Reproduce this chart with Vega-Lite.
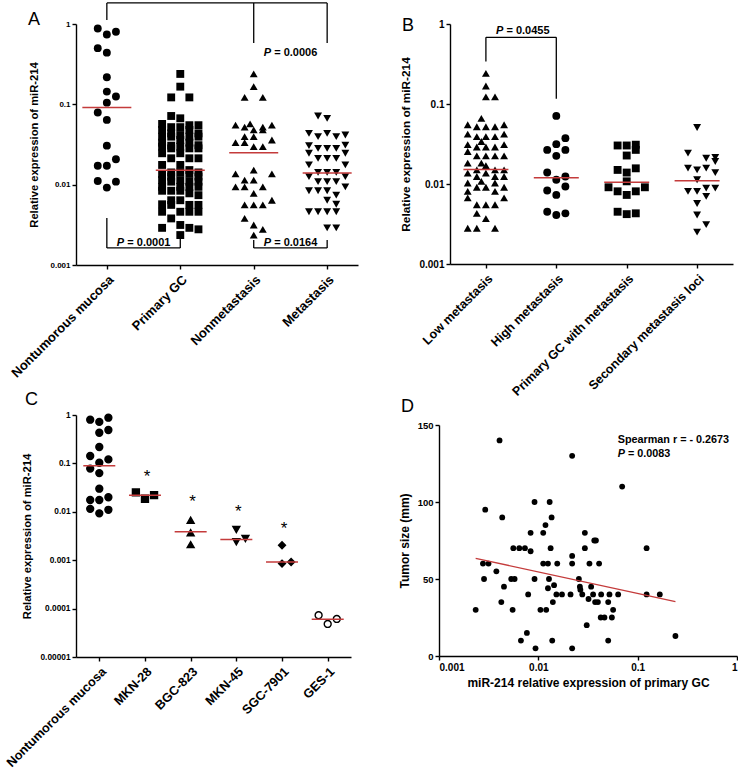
{
"$schema": "https://vega.github.io/schema/vega-lite/v6.json",
"background": "white",
"padding": {"left": 4, "top": 2, "right": 0, "bottom": 0},
"config": {
  "view": {"stroke": null},
  "font": "Liberation Sans",
  "axis": {"domainColor": "black", "domainWidth": 1.4, "tickColor": "black", "tickWidth": 1.4, "tickSize": 4, "labelColor": "black", "labelFont": "Liberation Sans", "labelFontWeight": "bold", "labelPadding": 2, "titleColor": "black", "titleFont": "Liberation Sans", "titleFontWeight": "bold", "grid": false, "labelOverlap": false},
  "title": {"font": "Liberation Sans", "fontSize": 18, "fontWeight": "normal", "anchor": "start", "frame": "group", "color": "black"}
},
"datasets": {
  "a_pts": [
    {"g":"Nontumorous mucosa","v":0.88,"c":-1},{"g":"Nontumorous mucosa","v":0.74,"c":0},{"g":"Nontumorous mucosa","v":0.80,"c":1},{"g":"Nontumorous mucosa","v":0.50,"c":-1},{"g":"Nontumorous mucosa","v":0.44,"c":0},{"g":"Nontumorous mucosa","v":0.217,"c":0},{"g":"Nontumorous mucosa","v":0.144,"c":0},{"g":"Nontumorous mucosa","v":0.125,"c":1},{"g":"Nontumorous mucosa","v":0.105,"c":0},{"g":"Nontumorous mucosa","v":0.079,"c":-1},{"g":"Nontumorous mucosa","v":0.064,"c":0},{"g":"Nontumorous mucosa","v":0.0306,"c":0},{"g":"Nontumorous mucosa","v":0.0172,"c":-1},{"g":"Nontumorous mucosa","v":0.0172,"c":0},{"g":"Nontumorous mucosa","v":0.0207,"c":1},{"g":"Nontumorous mucosa","v":0.0111,"c":-1},{"g":"Nontumorous mucosa","v":0.0109,"c":1},{"g":"Nontumorous mucosa","v":0.0092,"c":0},
    {"g":"Primary GC","v":0.239,"c":0},{"g":"Primary GC","v":0.166,"c":0},{"g":"Primary GC","v":0.122,"c":-1},{"g":"Primary GC","v":0.122,"c":1},{"g":"Primary GC","v":0.0716,"c":-1},{"g":"Primary GC","v":0.067,"c":0},{"g":"Primary GC","v":0.057,"c":-2},{"g":"Primary GC","v":0.055,"c":1},{"g":"Primary GC","v":0.055,"c":2},{"g":"Primary GC","v":0.052,"c":-1},{"g":"Primary GC","v":0.052,"c":0},{"g":"Primary GC","v":0.048,"c":-2},{"g":"Primary GC","v":0.048,"c":1},{"g":"Primary GC","v":0.0435,"c":2},{"g":"Primary GC","v":0.0435,"c":-1},{"g":"Primary GC","v":0.0415,"c":0},{"g":"Primary GC","v":0.0396,"c":-2},{"g":"Primary GC","v":0.0396,"c":1},{"g":"Primary GC","v":0.0396,"c":2},{"g":"Primary GC","v":0.0396,"c":-1},{"g":"Primary GC","v":0.036,"c":0},{"g":"Primary GC","v":0.0333,"c":-2},{"g":"Primary GC","v":0.0333,"c":1},{"g":"Primary GC","v":0.031,"c":2},{"g":"Primary GC","v":0.0306,"c":-1},{"g":"Primary GC","v":0.0297,"c":0},{"g":"Primary GC","v":0.0297,"c":-2},{"g":"Primary GC","v":0.0283,"c":1},{"g":"Primary GC","v":0.0283,"c":2},{"g":"Primary GC","v":0.0283,"c":-1},{"g":"Primary GC","v":0.0246,"c":0},{"g":"Primary GC","v":0.0246,"c":-2},{"g":"Primary GC","v":0.0213,"c":1},{"g":"Primary GC","v":0.0213,"c":2},{"g":"Primary GC","v":0.0213,"c":-1},{"g":"Primary GC","v":0.0176,"c":0},{"g":"Primary GC","v":0.0176,"c":-2},{"g":"Primary GC","v":0.0152,"c":1},{"g":"Primary GC","v":0.0142,"c":2},{"g":"Primary GC","v":0.0142,"c":-1},{"g":"Primary GC","v":0.0142,"c":0},{"g":"Primary GC","v":0.0136,"c":-2},{"g":"Primary GC","v":0.0136,"c":1},{"g":"Primary GC","v":0.0126,"c":2},{"g":"Primary GC","v":0.0126,"c":-1},{"g":"Primary GC","v":0.0114,"c":0},{"g":"Primary GC","v":0.0114,"c":-2},{"g":"Primary GC","v":0.0109,"c":1},{"g":"Primary GC","v":0.0109,"c":2},{"g":"Primary GC","v":0.0109,"c":-1},{"g":"Primary GC","v":0.0094,"c":0},{"g":"Primary GC","v":0.0094,"c":-2},{"g":"Primary GC","v":0.0094,"c":1},{"g":"Primary GC","v":0.0094,"c":2},{"g":"Primary GC","v":0.0084,"c":-1},{"g":"Primary GC","v":0.0084,"c":0},{"g":"Primary GC","v":0.0084,"c":-2},{"g":"Primary GC","v":0.0078,"c":1},{"g":"Primary GC","v":0.0074,"c":2},{"g":"Primary GC","v":0.0064,"c":-1},{"g":"Primary GC","v":0.0064,"c":0},{"g":"Primary GC","v":0.0057,"c":-2},{"g":"Primary GC","v":0.0056,"c":1},{"g":"Primary GC","v":0.0056,"c":2},{"g":"Primary GC","v":0.0056,"c":-1},{"g":"Primary GC","v":0.0046,"c":0},{"g":"Primary GC","v":0.0046,"c":-2},{"g":"Primary GC","v":0.0046,"c":1},{"g":"Primary GC","v":0.0046,"c":2},{"g":"Primary GC","v":0.0038,"c":-1},{"g":"Primary GC","v":0.00315,"c":0},{"g":"Primary GC","v":0.0029,"c":-2},{"g":"Primary GC","v":0.0029,"c":1},{"g":"Primary GC","v":0.00278,"c":2},{"g":"Primary GC","v":0.00236,"c":0},
    {"g":"Nonmetastasis","v":0.239,"c":0},{"g":"Nonmetastasis","v":0.166,"c":0},{"g":"Nonmetastasis","v":0.122,"c":-1},{"g":"Nonmetastasis","v":0.122,"c":1},{"g":"Nonmetastasis","v":0.055,"c":-2},{"g":"Nonmetastasis","v":0.052,"c":-1},{"g":"Nonmetastasis","v":0.057,"c":-0.4},{"g":"Nonmetastasis","v":0.052,"c":1},{"g":"Nonmetastasis","v":0.055,"c":2},{"g":"Nonmetastasis","v":0.048,"c":0},{"g":"Nonmetastasis","v":0.048,"c":1},{"g":"Nonmetastasis","v":0.0396,"c":-1},{"g":"Nonmetastasis","v":0.0396,"c":0},{"g":"Nonmetastasis","v":0.036,"c":2},{"g":"Nonmetastasis","v":0.0333,"c":-2},{"g":"Nonmetastasis","v":0.0333,"c":-1},{"g":"Nonmetastasis","v":0.0297,"c":0},{"g":"Nonmetastasis","v":0.0297,"c":1},{"g":"Nonmetastasis","v":0.0152,"c":0},{"g":"Nonmetastasis","v":0.0136,"c":-2},{"g":"Nonmetastasis","v":0.0136,"c":2},{"g":"Nonmetastasis","v":0.0114,"c":-1},{"g":"Nonmetastasis","v":0.0114,"c":0},{"g":"Nonmetastasis","v":0.0094,"c":-2},{"g":"Nonmetastasis","v":0.0094,"c":-1},{"g":"Nonmetastasis","v":0.0094,"c":1},{"g":"Nonmetastasis","v":0.0078,"c":0},{"g":"Nonmetastasis","v":0.0064,"c":2},{"g":"Nonmetastasis","v":0.0056,"c":-1},{"g":"Nonmetastasis","v":0.0056,"c":0},{"g":"Nonmetastasis","v":0.0056,"c":1},{"g":"Nonmetastasis","v":0.0038,"c":-1},{"g":"Nonmetastasis","v":0.00315,"c":0},{"g":"Nonmetastasis","v":0.00278,"c":1},{"g":"Nonmetastasis","v":0.00236,"c":0},
    {"g":"Metastasis","v":0.0716,"c":-1},{"g":"Metastasis","v":0.067,"c":0},{"g":"Metastasis","v":0.0435,"c":-2},{"g":"Metastasis","v":0.0396,"c":-1},{"g":"Metastasis","v":0.0435,"c":0},{"g":"Metastasis","v":0.0396,"c":1},{"g":"Metastasis","v":0.0415,"c":2},{"g":"Metastasis","v":0.0306,"c":-2},{"g":"Metastasis","v":0.031,"c":2},{"g":"Metastasis","v":0.0283,"c":-1},{"g":"Metastasis","v":0.0283,"c":0},{"g":"Metastasis","v":0.0283,"c":1},{"g":"Metastasis","v":0.0246,"c":-2},{"g":"Metastasis","v":0.0246,"c":2},{"g":"Metastasis","v":0.0213,"c":-1},{"g":"Metastasis","v":0.0213,"c":0},{"g":"Metastasis","v":0.0213,"c":1},{"g":"Metastasis","v":0.0176,"c":-2},{"g":"Metastasis","v":0.0176,"c":2},{"g":"Metastasis","v":0.0142,"c":-1},{"g":"Metastasis","v":0.0142,"c":0},{"g":"Metastasis","v":0.0142,"c":1},{"g":"Metastasis","v":0.0126,"c":-2},{"g":"Metastasis","v":0.0126,"c":2},{"g":"Metastasis","v":0.0109,"c":-1},{"g":"Metastasis","v":0.0109,"c":0},{"g":"Metastasis","v":0.0109,"c":1},{"g":"Metastasis","v":0.0094,"c":2},{"g":"Metastasis","v":0.0084,"c":-2},{"g":"Metastasis","v":0.0084,"c":-1},{"g":"Metastasis","v":0.0084,"c":0},{"g":"Metastasis","v":0.0074,"c":1},{"g":"Metastasis","v":0.0064,"c":0},{"g":"Metastasis","v":0.0057,"c":1},{"g":"Metastasis","v":0.0046,"c":-2},{"g":"Metastasis","v":0.0046,"c":-1},{"g":"Metastasis","v":0.0046,"c":0},{"g":"Metastasis","v":0.0046,"c":1},{"g":"Metastasis","v":0.0029,"c":0},{"g":"Metastasis","v":0.0029,"c":1}
  ],
  "a_med": [{"g":"Nontumorous mucosa","v":0.091},{"g":"Primary GC","v":0.0151},{"g":"Nonmetastasis","v":0.025},{"g":"Metastasis","v":0.014}],
  "a_seg": [
    {"xa":"Nontumorous mucosa","xb":"Metastasis","ya":1.83,"yb":1.83},
    {"xa":"Nontumorous mucosa","xb":"Nontumorous mucosa","ya":1.83,"yb":1.12},
    {"xa":"Nonmetastasis","xb":"Nonmetastasis","ya":1.83,"yb":0.58},
    {"xa":"Metastasis","xb":"Metastasis","ya":1.83,"yb":0.58},
    {"xa":"Nontumorous mucosa","xb":"Nontumorous mucosa","ya":0.00385,"yb":0.00163},
    {"xa":"Nontumorous mucosa","xb":"Primary GC","ya":0.00163,"yb":0.00163},
    {"xa":"Primary GC","xb":"Primary GC","ya":0.00163,"yb":0.0025},
    {"xa":"Nonmetastasis","xb":"Nonmetastasis","ya":0.00205,"yb":0.00163},
    {"xa":"Nonmetastasis","xb":"Metastasis","ya":0.00163,"yb":0.00163},
    {"xa":"Metastasis","xb":"Metastasis","ya":0.00163,"yb":0.00205}
  ],
  "a_p": [{"g":"Nonmetastasis","v":0.435,"t":"= 0.0006"},{"g":"Nontumorous mucosa","v":0.00188,"t":"= 0.0001"},{"g":"Nonmetastasis","v":0.00188,"t":"= 0.0164"}],
  "b_pts": [
    {"g":"Low metastasis","v":0.242,"c":0},{"g":"Low metastasis","v":0.168,"c":0},{"g":"Low metastasis","v":0.123,"c":0},{"g":"Low metastasis","v":0.123,"c":1},{"g":"Low metastasis","v":0.066,"c":-0.5},{"g":"Low metastasis","v":0.055,"c":-2},{"g":"Low metastasis","v":0.055,"c":2},{"g":"Low metastasis","v":0.052,"c":-1},{"g":"Low metastasis","v":0.052,"c":0},{"g":"Low metastasis","v":0.052,"c":1},{"g":"Low metastasis","v":0.042,"c":-2},{"g":"Low metastasis","v":0.042,"c":2},{"g":"Low metastasis","v":0.039,"c":-1},{"g":"Low metastasis","v":0.039,"c":0},{"g":"Low metastasis","v":0.039,"c":1},{"g":"Low metastasis","v":0.034,"c":-0.5},{"g":"Low metastasis","v":0.031,"c":-2},{"g":"Low metastasis","v":0.031,"c":2},{"g":"Low metastasis","v":0.029,"c":-1},{"g":"Low metastasis","v":0.029,"c":0},{"g":"Low metastasis","v":0.029,"c":1},{"g":"Low metastasis","v":0.0255,"c":-2},{"g":"Low metastasis","v":0.0225,"c":-1},{"g":"Low metastasis","v":0.0225,"c":0},{"g":"Low metastasis","v":0.0225,"c":1},{"g":"Low metastasis","v":0.0225,"c":2},{"g":"Low metastasis","v":0.0182,"c":-2},{"g":"Low metastasis","v":0.0182,"c":-0.5},{"g":"Low metastasis","v":0.017,"c":0},{"g":"Low metastasis","v":0.015,"c":-1},{"g":"Low metastasis","v":0.015,"c":1},{"g":"Low metastasis","v":0.015,"c":2},{"g":"Low metastasis","v":0.0137,"c":-2},{"g":"Low metastasis","v":0.0137,"c":0},{"g":"Low metastasis","v":0.0124,"c":-1},{"g":"Low metastasis","v":0.0124,"c":1},{"g":"Low metastasis","v":0.0124,"c":2},{"g":"Low metastasis","v":0.0108,"c":-0.5},{"g":"Low metastasis","v":0.0103,"c":-2},{"g":"Low metastasis","v":0.0103,"c":1},{"g":"Low metastasis","v":0.0091,"c":-1},{"g":"Low metastasis","v":0.0091,"c":0},{"g":"Low metastasis","v":0.0091,"c":2},{"g":"Low metastasis","v":0.0081,"c":-2},{"g":"Low metastasis","v":0.0081,"c":1},{"g":"Low metastasis","v":0.0067,"c":-2},{"g":"Low metastasis","v":0.0067,"c":2},{"g":"Low metastasis","v":0.0055,"c":-1},{"g":"Low metastasis","v":0.0055,"c":0},{"g":"Low metastasis","v":0.0055,"c":1},{"g":"Low metastasis","v":0.0043,"c":-1},{"g":"Low metastasis","v":0.0037,"c":0},{"g":"Low metastasis","v":0.0028,"c":-2},{"g":"Low metastasis","v":0.0028,"c":-1},{"g":"Low metastasis","v":0.0028,"c":1},
    {"g":"High metastasis","v":0.071,"c":0},{"g":"High metastasis","v":0.0374,"c":1},{"g":"High metastasis","v":0.0315,"c":0},{"g":"High metastasis","v":0.0267,"c":-1},{"g":"High metastasis","v":0.0267,"c":1},{"g":"High metastasis","v":0.0225,"c":0},{"g":"High metastasis","v":0.0139,"c":-1},{"g":"High metastasis","v":0.0124,"c":1},{"g":"High metastasis","v":0.0113,"c":0},{"g":"High metastasis","v":0.0093,"c":1},{"g":"High metastasis","v":0.0083,"c":-1},{"g":"High metastasis","v":0.0073,"c":0},{"g":"High metastasis","v":0.0045,"c":-1},{"g":"High metastasis","v":0.0043,"c":1},{"g":"High metastasis","v":0.0041,"c":0},
    {"g":"Primary GC with metastasis","v":0.0303,"c":-1},{"g":"Primary GC with metastasis","v":0.0303,"c":0},{"g":"Primary GC with metastasis","v":0.031,"c":1},{"g":"Primary GC with metastasis","v":0.0267,"c":1},{"g":"Primary GC with metastasis","v":0.0227,"c":0},{"g":"Primary GC with metastasis","v":0.015,"c":-1},{"g":"Primary GC with metastasis","v":0.0157,"c":1},{"g":"Primary GC with metastasis","v":0.0139,"c":0},{"g":"Primary GC with metastasis","v":0.0108,"c":0},{"g":"Primary GC with metastasis","v":0.0091,"c":-2},{"g":"Primary GC with metastasis","v":0.0091,"c":2},{"g":"Primary GC with metastasis","v":0.0081,"c":-1},{"g":"Primary GC with metastasis","v":0.0081,"c":1},{"g":"Primary GC with metastasis","v":0.0073,"c":0},{"g":"Primary GC with metastasis","v":0.0045,"c":-1},{"g":"Primary GC with metastasis","v":0.0042,"c":0},{"g":"Primary GC with metastasis","v":0.0043,"c":1},
    {"g":"Secondary metastasis loci","v":0.0508,"c":0},{"g":"Secondary metastasis loci","v":0.0243,"c":-1},{"g":"Secondary metastasis loci","v":0.021,"c":1},{"g":"Secondary metastasis loci","v":0.0215,"c":2},{"g":"Secondary metastasis loci","v":0.0191,"c":2},{"g":"Secondary metastasis loci","v":0.0158,"c":-1},{"g":"Secondary metastasis loci","v":0.0158,"c":1},{"g":"Secondary metastasis loci","v":0.015,"c":0},{"g":"Secondary metastasis loci","v":0.0139,"c":2},{"g":"Secondary metastasis loci","v":0.0113,"c":0},{"g":"Secondary metastasis loci","v":0.0089,"c":1},{"g":"Secondary metastasis loci","v":0.0089,"c":2},{"g":"Secondary metastasis loci","v":0.0081,"c":-1},{"g":"Secondary metastasis loci","v":0.0081,"c":0},{"g":"Secondary metastasis loci","v":0.007,"c":1},{"g":"Secondary metastasis loci","v":0.0057,"c":0},{"g":"Secondary metastasis loci","v":0.0041,"c":0},{"g":"Secondary metastasis loci","v":0.0031,"c":1},{"g":"Secondary metastasis loci","v":0.0025,"c":0}
  ],
  "b_med": [{"g":"Low metastasis","v":0.0152},{"g":"High metastasis","v":0.012},{"g":"Primary GC with metastasis","v":0.0105},{"g":"Secondary metastasis loci","v":0.011}],
  "b_seg": [
    {"xa":"Low metastasis","xb":"Low metastasis","ya":0.339,"yb":0.682},
    {"xa":"Low metastasis","xb":"High metastasis","ya":0.682,"yb":0.682},
    {"xa":"High metastasis","xb":"High metastasis","ya":0.682,"yb":0.116}
  ],
  "b_p": [{"g":"Low metastasis","v":0.818,"t":"= 0.0455"}],
  "c_pts": [
    {"g":"Nontumorous mucosa","v":0.88,"c":1},{"g":"Nontumorous mucosa","v":0.80,"c":-1},{"g":"Nontumorous mucosa","v":0.72,"c":0},{"g":"Nontumorous mucosa","v":0.49,"c":1},{"g":"Nontumorous mucosa","v":0.43,"c":0},{"g":"Nontumorous mucosa","v":0.218,"c":0},{"g":"Nontumorous mucosa","v":0.142,"c":-1},{"g":"Nontumorous mucosa","v":0.121,"c":1},{"g":"Nontumorous mucosa","v":0.103,"c":0},{"g":"Nontumorous mucosa","v":0.078,"c":-1},{"g":"Nontumorous mucosa","v":0.063,"c":0},{"g":"Nontumorous mucosa","v":0.030,"c":0},{"g":"Nontumorous mucosa","v":0.0175,"c":-1},{"g":"Nontumorous mucosa","v":0.0175,"c":0},{"g":"Nontumorous mucosa","v":0.020,"c":1},{"g":"Nontumorous mucosa","v":0.0115,"c":-1},{"g":"Nontumorous mucosa","v":0.011,"c":1},{"g":"Nontumorous mucosa","v":0.0093,"c":0},
    {"g":"MKN-28","v":0.0251,"c":-1},{"g":"MKN-28","v":0.0186,"c":0},{"g":"MKN-28","v":0.0221,"c":1},
    {"g":"BGC-823","v":0.0067,"c":0},{"g":"BGC-823","v":0.0037,"c":0},{"g":"BGC-823","v":0.0021,"c":0},
    {"g":"MKN-45","v":0.0043,"c":0},{"g":"MKN-45","v":0.0024,"c":0},{"g":"MKN-45","v":0.0028,"c":1},
    {"g":"SGC-7901","v":0.00204,"c":0},{"g":"SGC-7901","v":0.00085,"c":0},{"g":"SGC-7901","v":0.00092,"c":1},
    {"g":"GES-1","v":0.0000728,"c":-1},{"g":"GES-1","v":0.0000482,"c":0},{"g":"GES-1","v":0.0000611,"c":1}
  ],
  "c_med": [{"g":"Nontumorous mucosa","v":0.0895},{"g":"MKN-28","v":0.0221},{"g":"BGC-823","v":0.00386},{"g":"MKN-45","v":0.00268},{"g":"SGC-7901","v":0.00092},{"g":"GES-1","v":0.00006}],
  "c_star": [{"g":"MKN-28","v":0.064},{"g":"BGC-823","v":0.0195},{"g":"MKN-45","v":0.0121},{"g":"SGC-7901","v":0.0055}],
  "d_pts": [
    {"x":0.00407,"y":140},{"x":0.0219,"y":130},{"x":0.0698,"y":110},{"x":0.00292,"y":95},{"x":0.00916,"y":100},{"x":0.0130,"y":100},{"x":0.00433,"y":90},{"x":0.0136,"y":90},{"x":0.0118,"y":85},{"x":0.00836,"y":80},{"x":0.0112,"y":80},{"x":0.0294,"y":80},{"x":0.0366,"y":75},{"x":0.0380,"y":75},{"x":0.0056,"y":70},{"x":0.00643,"y":70},{"x":0.00733,"y":70},{"x":0.0133,"y":70},{"x":0.0294,"y":70},{"x":0.123,"y":70},{"x":0.00836,"y":68},{"x":0.0219,"y":65},{"x":0.00277,"y":60},{"x":0.00315,"y":60},{"x":0.0112,"y":60},{"x":0.0125,"y":60},{"x":0.0155,"y":60},{"x":0.0219,"y":60},{"x":0.0327,"y":60},{"x":0.0409,"y":60},{"x":0.00378,"y":55},{"x":0.00284,"y":50},{"x":0.00533,"y":50},{"x":0.00577,"y":50},{"x":0.00916,"y":50},{"x":0.0128,"y":50},{"x":0.0256,"y":50},{"x":0.00451,"y":45},{"x":0.0144,"y":46},{"x":0.0262,"y":45},{"x":0.034,"y":45},{"x":0.0125,"y":44},{"x":0.0265,"y":43},{"x":0.0079,"y":40},{"x":0.0152,"y":40},{"x":0.0173,"y":40},{"x":0.0211,"y":40},{"x":0.0277,"y":40},{"x":0.0356,"y":40},{"x":0.0429,"y":40},{"x":0.052,"y":40},{"x":0.0636,"y":40},{"x":0.123,"y":40},{"x":0.167,"y":40},{"x":0.00424,"y":35},{"x":0.0140,"y":35},{"x":0.032,"y":37},{"x":0.0373,"y":35},{"x":0.0398,"y":35},{"x":0.0505,"y":35},{"x":0.00234,"y":30},{"x":0.00551,"y":30},{"x":0.0105,"y":30},{"x":0.012,"y":30},{"x":0.0566,"y":30},{"x":0.0425,"y":25},{"x":0.0463,"y":25},{"x":0.055,"y":25},{"x":0.0307,"y":20},{"x":0.00767,"y":15},{"x":0.00668,"y":10},{"x":0.0138,"y":10},{"x":0.0505,"y":10},{"x":0.24,"y":13},{"x":0.00937,"y":5},{"x":0.0219,"y":5}
  ],
  "d_fit": [{"x1":0.00234,"y1":63.4,"x2":0.24,"y2":35.3}],
  "d_txt": [{"x":0.063,"y":140,"t":"Spearman r = - 0.2673"}],
  "d_p": [{"x":0.063,"y":131.4,"t":"= 0.0083"}]
},
"resolve": {"scale": {"shape": "independent", "fill": "independent", "xOffset": "independent"}},
"spacing": -7,
"vconcat": [
 {
  "bounds": "flush",
  "spacing": 92,
  "resolve": {"scale": {"shape": "independent", "fill": "independent", "xOffset": "independent"}},
  "hconcat": [
   {
    "width": 282, "height": 241,
    "title": {"text": "A", "dx": -48, "offset": -27},
    "layer": [
     {"data": {"name": "a_pts"}, "mark": {"type": "point", "filled": true, "size": 62, "opacity": 1},
      "encoding": {
       "x": {"field": "g", "type": "nominal", "title": null, "scale": {"type": "point", "domain": ["Nontumorous mucosa","Primary GC","Nonmetastasis","Metastasis"], "padding": 0.42}, "axis": {"labelAngle": -45, "labelFontSize": 13, "labelPadding": 4}},
       "xOffset": {"field": "c", "type": "quantitative", "scale": {"domain": [-3.3, 3.3], "range": [-30, 30]}},
       "y": {"field": "v", "type": "quantitative", "title": "Relative expression of miR-214", "scale": {"type": "log", "domain": [0.001, 1], "nice": false}, "axis": {"values": [0.001, 0.01, 0.1, 1], "format": "~f", "labelFontSize": 8, "titleFontSize": 11.2, "titlePadding": 10}},
       "shape": {"field": "g", "type": "nominal", "scale": {"domain": ["Nontumorous mucosa","Primary GC","Nonmetastasis","Metastasis"], "range": ["circle","square","triangle-up","triangle-down"]}, "legend": null},
       "color": {"value": "black"}
      }},
     {"data": {"name": "a_med"}, "mark": {"type": "tick", "color": "#c43b3b", "thickness": 1.5, "size": 49, "opacity": 1},
      "encoding": {
       "x": {"field": "g", "type": "nominal", "title": null, "scale": {"type": "point", "domain": ["Nontumorous mucosa","Primary GC","Nonmetastasis","Metastasis"], "padding": 0.42}},
       "y": {"field": "v", "type": "quantitative", "title": "Relative expression of miR-214", "scale": {"type": "log", "domain": [0.001, 1], "nice": false}}
      }},
     {"data": {"name": "a_seg"}, "mark": {"type": "rule", "color": "black", "strokeWidth": 1.3},
      "encoding": {
       "x": {"field": "xa", "type": "nominal", "title": null, "scale": {"type": "point", "domain": ["Nontumorous mucosa","Primary GC","Nonmetastasis","Metastasis"], "padding": 0.42}},
       "x2": {"field": "xb"},
       "y": {"field": "ya", "type": "quantitative", "title": "Relative expression of miR-214", "scale": {"type": "log", "domain": [0.001, 1], "nice": false}},
       "y2": {"field": "yb"}
      }},
     {"data": {"name": "a_p"}, "mark": {"type": "text", "text": "P", "font": "Liberation Sans", "fontStyle": "italic", "fontWeight": "bold", "fontSize": 11, "align": "left", "baseline": "middle", "dx": 10, "color": "black"},
      "encoding": {
       "x": {"field": "g", "type": "nominal", "title": null, "scale": {"type": "point", "domain": ["Nontumorous mucosa","Primary GC","Nonmetastasis","Metastasis"], "padding": 0.42}},
       "y": {"field": "v", "type": "quantitative", "title": "Relative expression of miR-214", "scale": {"type": "log", "domain": [0.001, 1], "nice": false}}
      }},
     {"data": {"name": "a_p"}, "mark": {"type": "text", "font": "Liberation Sans", "fontWeight": "bold", "fontSize": 11, "align": "left", "baseline": "middle", "dx": 20.5, "color": "black"},
      "encoding": {
       "x": {"field": "g", "type": "nominal", "title": null, "scale": {"type": "point", "domain": ["Nontumorous mucosa","Primary GC","Nonmetastasis","Metastasis"], "padding": 0.42}},
       "y": {"field": "v", "type": "quantitative", "title": "Relative expression of miR-214", "scale": {"type": "log", "domain": [0.001, 1], "nice": false}},
       "text": {"field": "t"}
      }}
    ]
   },
   {
    "width": 283, "height": 240,
    "title": {"text": "B", "dx": -48, "offset": -16},
    "layer": [
     {"data": {"name": "b_pts"}, "mark": {"type": "point", "filled": true, "size": 62, "opacity": 1},
      "encoding": {
       "x": {"field": "g", "type": "nominal", "title": null, "scale": {"type": "point", "domain": ["Low metastasis","High metastasis","Primary GC with metastasis","Secondary metastasis loci"], "padding": 0.51}, "axis": {"labelAngle": -45, "labelFontSize": 12.5, "labelPadding": 4}},
       "xOffset": {"field": "c", "type": "quantitative", "scale": {"domain": [-3.3, 3.3], "range": [-30, 30]}},
       "y": {"field": "v", "type": "quantitative", "title": "Relative expression of miR-214", "scale": {"type": "log", "domain": [0.001, 1], "nice": false}, "axis": {"values": [0.001, 0.01, 0.1, 1], "format": "~f", "labelFontSize": 10, "titleFontSize": 11.8, "titlePadding": 7}},
       "shape": {"field": "g", "type": "nominal", "scale": {"domain": ["Low metastasis","High metastasis","Primary GC with metastasis","Secondary metastasis loci"], "range": ["triangle-up","circle","square","triangle-down"]}, "legend": null},
       "color": {"value": "black"}
      }},
     {"data": {"name": "b_med"}, "mark": {"type": "tick", "color": "#c43b3b", "thickness": 1.5, "size": 45, "opacity": 1},
      "encoding": {
       "x": {"field": "g", "type": "nominal", "title": null, "scale": {"type": "point", "domain": ["Low metastasis","High metastasis","Primary GC with metastasis","Secondary metastasis loci"], "padding": 0.51}},
       "y": {"field": "v", "type": "quantitative", "title": "Relative expression of miR-214", "scale": {"type": "log", "domain": [0.001, 1], "nice": false}}
      }},
     {"data": {"name": "b_seg"}, "mark": {"type": "rule", "color": "black", "strokeWidth": 1.3},
      "encoding": {
       "x": {"field": "xa", "type": "nominal", "title": null, "scale": {"type": "point", "domain": ["Low metastasis","High metastasis","Primary GC with metastasis","Secondary metastasis loci"], "padding": 0.51}},
       "x2": {"field": "xb"},
       "y": {"field": "ya", "type": "quantitative", "title": "Relative expression of miR-214", "scale": {"type": "log", "domain": [0.001, 1], "nice": false}},
       "y2": {"field": "yb"}
      }},
     {"data": {"name": "b_p"}, "mark": {"type": "text", "text": "P", "font": "Liberation Sans", "fontStyle": "italic", "fontWeight": "bold", "fontSize": 11, "align": "left", "baseline": "middle", "dx": 10, "color": "black"},
      "encoding": {
       "x": {"field": "g", "type": "nominal", "title": null, "scale": {"type": "point", "domain": ["Low metastasis","High metastasis","Primary GC with metastasis","Secondary metastasis loci"], "padding": 0.51}},
       "y": {"field": "v", "type": "quantitative", "title": "Relative expression of miR-214", "scale": {"type": "log", "domain": [0.001, 1], "nice": false}}
      }},
     {"data": {"name": "b_p"}, "mark": {"type": "text", "font": "Liberation Sans", "fontWeight": "bold", "fontSize": 11, "align": "left", "baseline": "middle", "dx": 20.5, "color": "black"},
      "encoding": {
       "x": {"field": "g", "type": "nominal", "title": null, "scale": {"type": "point", "domain": ["Low metastasis","High metastasis","Primary GC with metastasis","Secondary metastasis loci"], "padding": 0.51}},
       "y": {"field": "v", "type": "quantitative", "title": "Relative expression of miR-214", "scale": {"type": "log", "domain": [0.001, 1], "nice": false}},
       "text": {"field": "t"}
      }}
    ]
   }
  ]
 },
 {
  "bounds": "flush",
  "spacing": 88,
  "resolve": {"scale": {"shape": "independent", "fill": "independent", "xOffset": "independent"}},
  "hconcat": [
   {
    "width": 275, "height": 242,
    "title": {"text": "C", "dx": -51, "offset": 1},
    "layer": [
     {"data": {"name": "c_pts"}, "mark": {"type": "point", "filled": true, "size": 48, "opacity": 1, "stroke": "black", "strokeWidth": 1.4},
      "encoding": {
       "x": {"field": "g", "type": "nominal", "title": null, "scale": {"type": "point", "domain": ["Nontumorous mucosa","MKN-28","BGC-823","MKN-45","SGC-7901","GES-1"], "padding": 0.51}, "axis": {"labelAngle": -45, "labelFontSize": 12.7, "labelPadding": 4}},
       "xOffset": {"field": "c", "type": "quantitative", "scale": {"domain": [-3.3, 3.3], "range": [-30, 30]}},
       "y": {"field": "v", "type": "quantitative", "title": "Relative expression of miR-214", "scale": {"type": "log", "domain": [0.00001, 1], "nice": false}, "axis": {"values": [0.00001, 0.0001, 0.001, 0.01, 0.1, 1], "format": "~f", "labelFontSize": 8.3, "titleFontSize": 11.2, "titlePadding": 8}},
       "shape": {"field": "g", "type": "nominal", "scale": {"domain": ["Nontumorous mucosa","MKN-28","BGC-823","MKN-45","SGC-7901","GES-1"], "range": ["circle","square","triangle-up","triangle-down","diamond","circle"]}, "legend": null},
       "fill": {"field": "g", "type": "nominal", "scale": {"domain": ["Nontumorous mucosa","MKN-28","BGC-823","MKN-45","SGC-7901","GES-1"], "range": ["black","black","black","black","black","white"]}, "legend": null}
      }},
     {"data": {"name": "c_med"}, "mark": {"type": "tick", "color": "#c43b3b", "thickness": 1.5, "size": 32, "opacity": 1},
      "encoding": {
       "x": {"field": "g", "type": "nominal", "title": null, "scale": {"type": "point", "domain": ["Nontumorous mucosa","MKN-28","BGC-823","MKN-45","SGC-7901","GES-1"], "padding": 0.51}},
       "y": {"field": "v", "type": "quantitative", "title": "Relative expression of miR-214", "scale": {"type": "log", "domain": [0.00001, 1], "nice": false}}
      }},
     {"data": {"name": "c_star"}, "mark": {"type": "text", "text": "*", "font": "Liberation Sans", "fontSize": 17, "align": "center", "baseline": "middle", "dx": 2, "dy": 4.5, "color": "black"},
      "encoding": {
       "x": {"field": "g", "type": "nominal", "title": null, "scale": {"type": "point", "domain": ["Nontumorous mucosa","MKN-28","BGC-823","MKN-45","SGC-7901","GES-1"], "padding": 0.51}},
       "y": {"field": "v", "type": "quantitative", "title": "Relative expression of miR-214", "scale": {"type": "log", "domain": [0.00001, 1], "nice": false}}
      }}
    ]
   },
   {
    "width": 298, "height": 241,
    "title": {"text": "D", "dx": -38, "offset": -1},
    "layer": [
     {"data": {"name": "d_pts"}, "mark": {"type": "circle", "size": 34, "opacity": 1, "color": "black"},
      "encoding": {
       "x": {"field": "x", "type": "quantitative", "title": "miR-214 relative expression of primary GC", "scale": {"type": "log", "domain": [0.001, 1], "nice": false}, "axis": {"values": [0.001, 0.01, 0.1, 1], "format": "~f", "labelFontSize": 10, "titleFontSize": 12, "titlePadding": 5}},
       "y": {"field": "y", "type": "quantitative", "title": "Tumor size (mm)", "scale": {"domain": [0, 150], "nice": false, "range": [241, 10]}, "axis": {"values": [0, 50, 100, 150], "labelFontSize": 9.5, "titleFontSize": 12, "titlePadding": 6}}
      }},
     {"data": {"name": "d_fit"}, "mark": {"type": "rule", "color": "#c43b3b", "strokeWidth": 1.4},
      "encoding": {
       "x": {"field": "x1", "type": "quantitative", "title": "miR-214 relative expression of primary GC", "scale": {"type": "log", "domain": [0.001, 1], "nice": false}},
       "x2": {"field": "x2"},
       "y": {"field": "y1", "type": "quantitative", "title": "Tumor size (mm)", "scale": {"domain": [0, 150], "nice": false, "range": [241, 10]}},
       "y2": {"field": "y2"}
      }},
     {"data": {"name": "d_txt"}, "mark": {"type": "text", "font": "Liberation Sans", "fontWeight": "bold", "fontSize": 10.8, "align": "left", "baseline": "middle", "color": "black"},
      "encoding": {
       "x": {"field": "x", "type": "quantitative", "title": "miR-214 relative expression of primary GC", "scale": {"type": "log", "domain": [0.001, 1], "nice": false}},
       "y": {"field": "y", "type": "quantitative", "title": "Tumor size (mm)", "scale": {"domain": [0, 150], "nice": false, "range": [241, 10]}},
       "text": {"field": "t"}
      }},
     {"data": {"name": "d_p"}, "mark": {"type": "text", "text": "P", "font": "Liberation Sans", "fontStyle": "italic", "fontWeight": "bold", "fontSize": 10.8, "align": "left", "baseline": "middle", "color": "black"},
      "encoding": {
       "x": {"field": "x", "type": "quantitative", "title": "miR-214 relative expression of primary GC", "scale": {"type": "log", "domain": [0.001, 1], "nice": false}},
       "y": {"field": "y", "type": "quantitative", "title": "Tumor size (mm)", "scale": {"domain": [0, 150], "nice": false, "range": [241, 10]}}
      }},
     {"data": {"name": "d_p"}, "mark": {"type": "text", "font": "Liberation Sans", "fontWeight": "bold", "fontSize": 10.8, "align": "left", "baseline": "middle", "dx": 10.3, "color": "black"},
      "encoding": {
       "x": {"field": "x", "type": "quantitative", "title": "miR-214 relative expression of primary GC", "scale": {"type": "log", "domain": [0.001, 1], "nice": false}},
       "y": {"field": "y", "type": "quantitative", "title": "Tumor size (mm)", "scale": {"domain": [0, 150], "nice": false, "range": [241, 10]}},
       "text": {"field": "t"}
      }}
    ]
   }
  ]
 }
]
}
